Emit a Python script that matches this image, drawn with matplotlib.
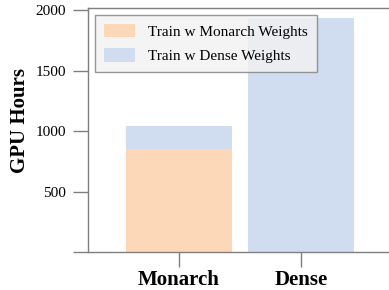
import numpy as np
from matplotlib import pyplot as plt

# datos
metodos = ["Monarch", "Dense"]
horas_monarch = [850, 0]
horas_dense = [190, 1935]

plt.rcParams['font.family'] = ['Liberation Serif', 'DejaVu Serif']

naranja = "#fdd8b8"
azul = "#d0ddf0"
gris = "#7f7f7f"

fig = plt.figure(figsize=(3.89, 2.90), dpi=100)
ax = fig.add_axes([0.226, 0.130, 0.783, 0.841])

x = np.arange(len(metodos))
ancho = 0.875

ax.bar(x, horas_monarch, ancho, color=naranja, label="Train w Monarch Weights")
ax.bar(x, horas_dense, ancho, bottom=horas_monarch, color=azul,
       label="Train w Dense Weights")

ax.set_xlim(-0.746, 1.75)
ax.set_ylim(0, 2015)
ax.set_yticks([0, 500, 1000, 1500, 2000])
ax.set_yticklabels(["", "500", "1000", "1500", "2000"], fontsize=11)
ax.set_xticks(x)
ax.set_xticklabels(metodos, fontsize=15, fontweight="bold")
ax.set_ylabel("GPU Hours", fontsize=15, fontweight="bold")
ax.yaxis.set_label_coords(-0.19, 0.54)

for s in ["left", "bottom", "top", "right"]:
    ax.spines[s].set_color(gris)
    ax.spines[s].set_linewidth(1.0)
ax.tick_params(axis="both", direction="out", length=11, width=1.0, color=gris)
ax.tick_params(axis="y", pad=5)
ax.tick_params(axis="x", pad=1.5)

leg = ax.legend(loc="upper left", fontsize=11, handlelength=2.0, handleheight=1.0,
                fancybox=False, framealpha=0.8, edgecolor=gris,
                borderpad=0.6, labelspacing=0.6, handletextpad=0.85,
                borderaxespad=0, bbox_to_anchor=(0.023, 0.975))
leg.get_frame().set_facecolor("#f2f2f2")
leg.get_frame().set_linewidth(1.0)

plt.savefig("out.png", dpi=100)
